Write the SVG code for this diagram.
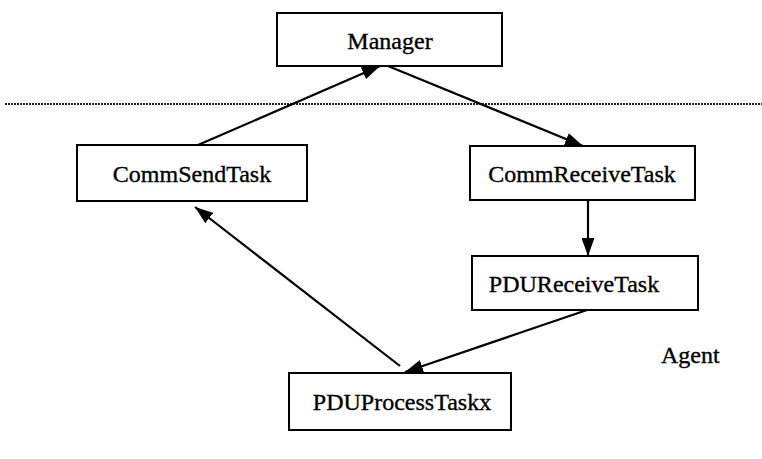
<svg xmlns="http://www.w3.org/2000/svg" width="762" height="459" viewBox="0 0 762 459">
  <defs>
    <marker id="arrow" viewBox="0 0 18 13" refX="18" refY="6.5" markerWidth="18" markerHeight="13" markerUnits="userSpaceOnUse" orient="auto">
      <path d="M0,0 L18,6.5 L0,13 Z" fill="#000"/>
    </marker>
  </defs>
  <style>
    .box { fill: #fff; stroke: #000; stroke-width: 2; }
    .label { font-family: "Liberation Serif", "Times New Roman", serif; font-size: 24px; fill: #000; stroke: #000; stroke-width: 0.35; }
    .edge { stroke: #000; stroke-width: 2.2; fill: none; marker-end: url(#arrow); }
    .divider { stroke: #222; stroke-width: 1.8; stroke-dasharray: 2 1; }
  </style>
  <rect width="762" height="459" fill="#fff"/>

  <!-- manager / agent boundary -->
  <line class="divider" x1="5" y1="104" x2="762" y2="104"/>

  <g id="manager">
    <rect class="box" x="277" y="13" width="225" height="53"/>
    <text class="label" x="390" y="49" text-anchor="middle">Manager</text>
  </g>

  <g id="commSendTask">
    <rect class="box" x="77" y="145" width="230" height="56"/>
    <text class="label" x="192" y="182" text-anchor="middle">CommSendTask</text>
  </g>

  <g id="commReceiveTask">
    <rect class="box" x="470" y="146" width="225" height="54"/>
    <text class="label" x="582" y="182" text-anchor="middle">CommReceiveTask</text>
  </g>

  <g id="pduReceiveTask">
    <rect class="box" x="472" y="256" width="226" height="54"/>
    <text class="label" x="574" y="292" text-anchor="middle">PDUReceiveTask</text>
  </g>

  <g id="pduProcessTaskx">
    <rect class="box" x="289" y="373" width="222" height="57"/>
    <text class="label" x="402" y="410" text-anchor="middle">PDUProcessTaskx</text>
  </g>

  <g id="agent">
    <text class="label" x="661" y="363">Agent</text>
  </g>

  <g id="connectors">
    <line class="edge" x1="198" y1="145" x2="380" y2="66"/>
    <line class="edge" x1="388" y1="66" x2="583" y2="146"/>
    <line class="edge" x1="588" y1="200" x2="588" y2="256"/>
    <line class="edge" x1="587" y1="310" x2="405" y2="372"/>
    <line class="edge" x1="400" y1="366" x2="195" y2="207"/>
  </g>
</svg>
